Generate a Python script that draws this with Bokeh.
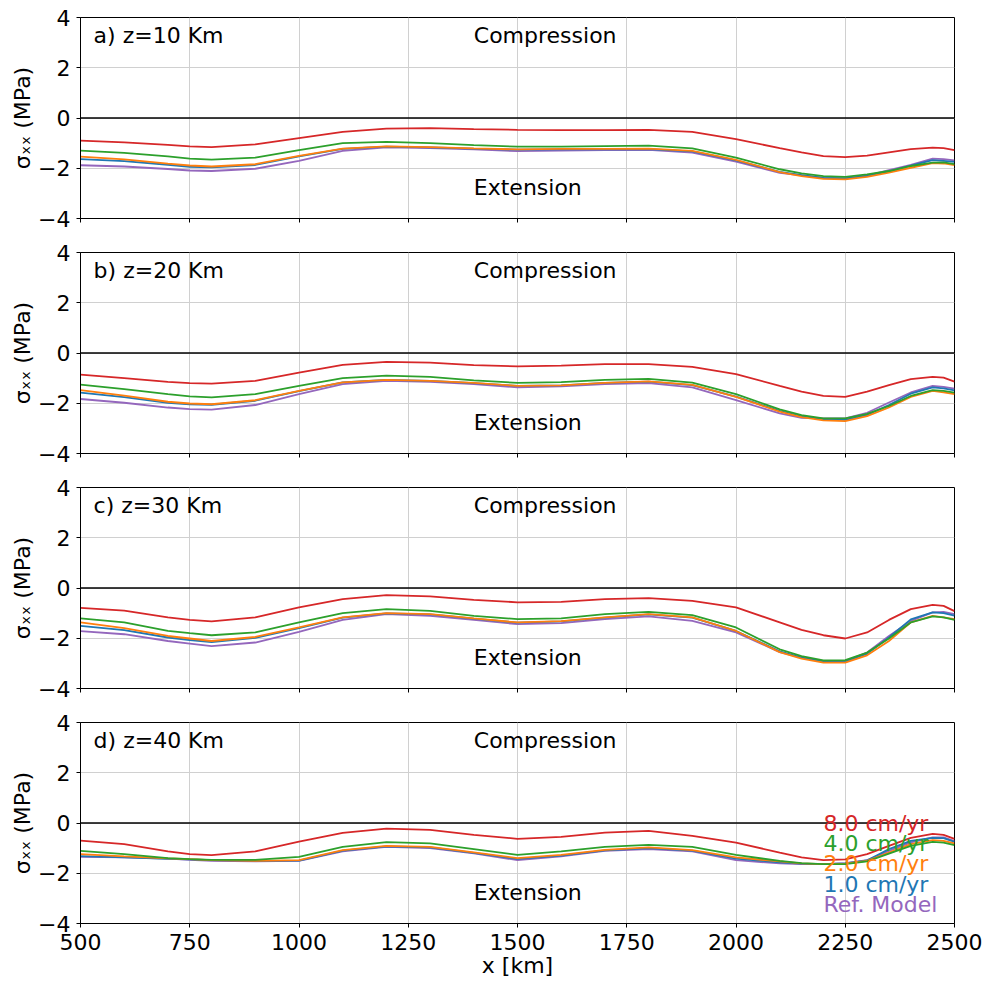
from bokeh.plotting import figure
from bokeh.models import Span, Label, FixedTicker, Range1d
from bokeh.layouts import column
from bokeh.embed import file_html
from bokeh.resources import INLINE

# ---------------- data ----------------
x_km = [500, 600, 700, 750, 800, 900, 1000, 1100, 1200, 1300, 1400, 1500, 1600, 1700,
        1800, 1900, 2000, 2100, 2150, 2200, 2250, 2300, 2350, 2400, 2450, 2475, 2500]

panel_titles = ["a) z=10 Km", "b) z=20 Km", "c) z=30 Km", "d) z=40 Km"]
series_labels = ["8.0 cm/yr", "4.0 cm/yr", "2.0 cm/yr", "1.0 cm/yr", "Ref. Model"]
series_colors = ["#d62728", "#2ca02c", "#ff7f0e", "#1f77b4", "#9467bd"]

# panel a) z=10 km
a_v8 = [-0.90, -0.97, -1.07, -1.13, -1.16, -1.05, -0.80, -0.55, -0.42, -0.40, -0.44, -0.47, -0.48, -0.48,
        -0.47, -0.55, -0.84, -1.20, -1.37, -1.52, -1.56, -1.50, -1.37, -1.24, -1.18, -1.20, -1.28]
a_v4 = [-1.30, -1.39, -1.53, -1.62, -1.66, -1.58, -1.28, -1.00, -0.95, -1.00, -1.08, -1.14, -1.14, -1.12,
        -1.10, -1.21, -1.58, -2.04, -2.20, -2.31, -2.34, -2.24, -2.11, -1.91, -1.78, -1.77, -1.84]
a_v2 = [-1.54, -1.65, -1.82, -1.89, -1.93, -1.84, -1.51, -1.22, -1.13, -1.16, -1.21, -1.25, -1.23, -1.23,
        -1.22, -1.31, -1.67, -2.15, -2.31, -2.42, -2.44, -2.34, -2.17, -1.98, -1.80, -1.81, -1.88]
a_v1 = [-1.64, -1.72, -1.86, -1.94, -1.96, -1.87, -1.53, -1.23, -1.14, -1.17, -1.22, -1.26, -1.25, -1.25,
        -1.24, -1.33, -1.69, -2.14, -2.27, -2.38, -2.40, -2.30, -2.12, -1.90, -1.68, -1.71, -1.75]
a_ref = [-1.88, -1.93, -2.03, -2.09, -2.11, -2.02, -1.71, -1.31, -1.17, -1.20, -1.25, -1.32, -1.30, -1.28,
         -1.27, -1.38, -1.74, -2.18, -2.28, -2.38, -2.40, -2.29, -2.07, -1.87, -1.62, -1.64, -1.69]

# panel b) z=20 km
b_v8 = [-0.86, -1.00, -1.15, -1.20, -1.22, -1.11, -0.78, -0.47, -0.35, -0.38, -0.48, -0.53, -0.50, -0.44,
        -0.44, -0.55, -0.84, -1.31, -1.54, -1.71, -1.75, -1.54, -1.28, -1.04, -0.95, -0.98, -1.14]
b_v4 = [-1.26, -1.44, -1.64, -1.73, -1.77, -1.64, -1.31, -1.00, -0.90, -0.95, -1.09, -1.19, -1.16, -1.07,
        -1.03, -1.18, -1.64, -2.24, -2.47, -2.60, -2.60, -2.42, -2.11, -1.71, -1.48, -1.51, -1.58]
b_v2 = [-1.48, -1.70, -1.94, -2.01, -2.04, -1.88, -1.51, -1.17, -1.07, -1.11, -1.19, -1.31, -1.29, -1.19,
        -1.13, -1.27, -1.75, -2.33, -2.55, -2.68, -2.71, -2.51, -2.17, -1.75, -1.51, -1.57, -1.64]
b_v1 = [-1.58, -1.76, -1.98, -2.04, -2.06, -1.90, -1.52, -1.17, -1.07, -1.11, -1.20, -1.31, -1.29, -1.19,
        -1.14, -1.28, -1.74, -2.30, -2.52, -2.63, -2.66, -2.46, -2.07, -1.62, -1.37, -1.41, -1.49]
b_ref = [-1.83, -1.98, -2.17, -2.23, -2.25, -2.07, -1.64, -1.24, -1.11, -1.15, -1.24, -1.37, -1.33, -1.24,
         -1.20, -1.37, -1.88, -2.40, -2.58, -2.60, -2.60, -2.38, -1.97, -1.57, -1.31, -1.35, -1.42]

# panel c) z=30 km
c_v8 = [-0.79, -0.90, -1.17, -1.27, -1.33, -1.17, -0.77, -0.44, -0.28, -0.33, -0.47, -0.57, -0.55, -0.44,
        -0.40, -0.51, -0.77, -1.37, -1.67, -1.88, -2.01, -1.77, -1.27, -0.84, -0.67, -0.71, -0.92]
c_v4 = [-1.21, -1.37, -1.71, -1.80, -1.88, -1.77, -1.37, -1.00, -0.84, -0.91, -1.11, -1.24, -1.21, -1.04,
        -0.95, -1.08, -1.57, -2.44, -2.71, -2.88, -2.87, -2.57, -2.01, -1.37, -1.13, -1.17, -1.27]
c_v2 = [-1.37, -1.60, -1.91, -2.01, -2.11, -1.95, -1.57, -1.17, -1.00, -1.04, -1.21, -1.37, -1.32, -1.17,
        -1.04, -1.17, -1.71, -2.55, -2.81, -2.97, -2.97, -2.68, -2.11, -1.37, -1.11, -1.17, -1.24]
c_v1 = [-1.51, -1.68, -1.97, -2.07, -2.15, -1.98, -1.60, -1.18, -1.01, -1.05, -1.22, -1.38, -1.33, -1.18,
        -1.05, -1.18, -1.71, -2.52, -2.77, -2.92, -2.92, -2.62, -1.97, -1.25, -0.97, -1.00, -1.10]
c_ref = [-1.72, -1.84, -2.11, -2.21, -2.31, -2.17, -1.75, -1.27, -1.04, -1.11, -1.27, -1.44, -1.40, -1.24,
         -1.13, -1.31, -1.77, -2.55, -2.77, -2.91, -2.91, -2.57, -1.91, -1.31, -0.97, -0.95, -1.04]

# panel d) z=40 km
d_v8 = [-0.70, -0.84, -1.13, -1.24, -1.28, -1.13, -0.74, -0.39, -0.22, -0.27, -0.47, -0.63, -0.55, -0.38,
        -0.31, -0.51, -0.78, -1.18, -1.37, -1.48, -1.45, -1.24, -0.91, -0.59, -0.43, -0.47, -0.63]
d_v4 = [-1.11, -1.24, -1.40, -1.44, -1.47, -1.47, -1.35, -0.95, -0.76, -0.81, -1.04, -1.27, -1.13, -0.95,
        -0.87, -0.95, -1.27, -1.51, -1.60, -1.64, -1.64, -1.53, -1.22, -0.91, -0.75, -0.78, -0.88]
d_v2 = [-1.24, -1.33, -1.41, -1.44, -1.48, -1.51, -1.48, -1.08, -0.91, -0.95, -1.17, -1.40, -1.27, -1.07,
        -0.97, -1.08, -1.37, -1.53, -1.61, -1.64, -1.62, -1.51, -1.18, -0.84, -0.68, -0.71, -0.81]
d_v1 = [-1.32, -1.37, -1.43, -1.45, -1.48, -1.51, -1.50, -1.10, -0.93, -0.97, -1.19, -1.43, -1.30, -1.09,
        -1.00, -1.10, -1.42, -1.57, -1.62, -1.64, -1.61, -1.49, -1.04, -0.71, -0.59, -0.60, -0.75]
d_ref = [-1.35, -1.37, -1.42, -1.47, -1.51, -1.53, -1.51, -1.13, -0.95, -1.00, -1.21, -1.48, -1.33, -1.11,
         -1.04, -1.13, -1.48, -1.61, -1.64, -1.64, -1.60, -1.48, -1.11, -0.77, -0.57, -0.57, -0.72]

panels = [
    [a_v8, a_v4, a_v2, a_v1, a_ref],
    [b_v8, b_v4, b_v2, b_v1, b_ref],
    [c_v8, c_v4, c_v2, c_v1, c_ref],
    [d_v8, d_v4, d_v2, d_v1, d_ref],
]

x_ticks = [500, 750, 1000, 1250, 1500, 1750, 2000, 2250, 2500]
y_ticks = [-4, -2, 0, 2, 4]
y_tick_labels = {-4: "\u22124", -2: "\u22122", 0: "0", 2: "2", 4: "4"}
y_label = "\u03c3\u2093\u2093 (MPa)"
x_label = "x [km]"

FONT = "DejaVu Sans"
FS = "22px"

figs = []
for i, (title, series) in enumerate(zip(panel_titles, panels)):
    last = (i == len(panels) - 1)
    p = figure(frame_width=874, frame_height=201,
               x_range=Range1d(500, 2500), y_range=Range1d(-4, 4),
               output_backend="svg", toolbar_location=None,
               min_border_left=80, min_border_right=30, min_border_top=17,
               min_border_bottom=20 if last else 17)
    p.outline_line_color = "black"
    p.outline_line_width = 1
    p.background_fill_color = "white"
    p.border_fill_color = "white"

    xa = p.xaxis[0]
    ya = p.yaxis[0]
    for ax in (xa, ya):
        ax.axis_line_color = "black"
        ax.major_tick_in = 0
        ax.major_tick_out = 4
        ax.major_tick_line_color = "black"
        ax.minor_tick_in = 0
        ax.minor_tick_out = 4
        ax.major_label_text_font = FONT
        ax.major_label_text_font_size = FS
        ax.major_label_text_color = "black"
        ax.major_label_standoff = 6
        ax.axis_label_text_color = "black"

    ya.ticker = FixedTicker(ticks=y_ticks)
    ya.minor_tick_line_color = None
    ya.major_label_overrides = y_tick_labels
    ya.axis_label = y_label
    ya.axis_label_text_font = FONT
    ya.axis_label_text_font_size = FS
    ya.axis_label_text_font_style = "normal"
    ya.axis_label_standoff = 0

    if last:
        xa.ticker = FixedTicker(ticks=x_ticks)
        xa.minor_tick_line_color = None
        xa.axis_label = x_label
        xa.axis_label_text_font = FONT
        xa.axis_label_text_font_size = FS
        xa.axis_label_text_font_style = "normal"
        xa.axis_label_standoff = 0
    else:
        # tick marks only, no tick labels
        xa.ticker = FixedTicker(ticks=[], minor_ticks=x_ticks)
        xa.minor_tick_line_color = "black"

    p.xgrid.ticker = FixedTicker(ticks=x_ticks)
    p.ygrid.ticker = FixedTicker(ticks=y_ticks)
    p.xgrid.grid_line_color = "#d0d0d0"
    p.ygrid.grid_line_color = "#d0d0d0"
    p.xgrid.grid_line_width = 1
    p.ygrid.grid_line_width = 1

    # draw reference first, fastest last
    for vals, col in reversed(list(zip(series, series_colors))):
        p.line(x_km, vals, line_color=col, line_width=1.8)

    p.add_layout(Span(location=0, dimension="width", line_color="black", line_width=1.6))

    p.add_layout(Label(x=530, y=3.29, text=title, text_font=FONT, text_font_size=FS,
                       text_baseline="middle", text_align="left", text_color="black"))
    p.add_layout(Label(x=1400, y=3.29, text="Compression", text_font=FONT, text_font_size=FS,
                       text_baseline="middle", text_align="left", text_color="black"))
    p.add_layout(Label(x=1400, y=-2.75, text="Extension", text_font=FONT, text_font_size=FS,
                       text_baseline="middle", text_align="left", text_color="black"))

    if last:
        base_y = [-0.03, -0.83, -1.63, -2.43, -3.23]
        for lab, col, yy in zip(series_labels, series_colors, base_y):
            p.add_layout(Label(x=2200, y=yy, text=lab, text_font=FONT, text_font_size=FS,
                               text_baseline="alphabetic", text_align="left", text_color=col))
    figs.append(p)

layout = column(*figs, spacing=0)
open("out.html", "w").write(file_html(layout, INLINE))
